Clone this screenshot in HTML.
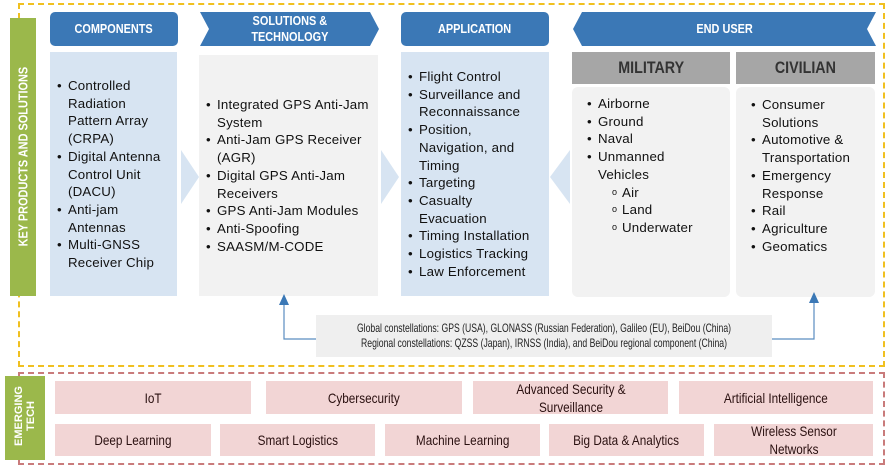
<!DOCTYPE html>
<html><head><meta charset="utf-8"><style>
*{margin:0;padding:0;box-sizing:border-box}
body{width:889px;height:467px;background:#fff;position:relative;overflow:hidden;font-family:"Liberation Sans",sans-serif}
.a{position:absolute}
.n{display:inline-block;transform:scaleX(0.84);white-space:nowrap}
.hdr{background:#3b78b6;color:#fff;font-weight:bold;font-size:13px;display:flex;align-items:center;justify-content:center;text-align:center;line-height:16px}
.lb{background:#d7e4f2}
.lg{background:#f2f2f2}
.list{position:absolute;font-size:13.3px;line-height:17.7px;color:#111;white-space:nowrap;letter-spacing:0.2px}
.list div{position:relative;padding-left:11px}
.list div::before{content:"•";position:absolute;left:0;top:0}
.list div.s{padding-left:35px}
.list div.s::before{content:"o";left:25px;font-size:9px}
.et{background:#f2d5d5;color:#2a1010;font-size:14px;display:flex;align-items:center;justify-content:center;text-align:center;line-height:18px}
</style></head><body>
<div class="a" style="left:18px;top:3px;width:867px;height:364px;border:2px dashed #f0c020"></div>
<div class="a" style="left:18px;top:372px;width:867px;height:93px;border:2px dashed #c97b7b"></div>
<div class="a" style="left:10px;top:18px;width:26px;height:278px;background:#9bb84b"></div>
<div class="a" style="left:23px;top:157px;width:0;height:0"><div style="position:absolute;left:-150px;top:-8px;width:300px;text-align:center;transform:rotate(-90deg);color:#fff;font-weight:bold;font-size:13px"><span class="n">KEY PRODUCTS AND SOLUTIONS</span></div></div>
<div class="a" style="left:5px;top:376px;width:40px;height:84px;background:#9bb84b"></div>
<div class="a" style="left:25px;top:418px;width:0;height:0"><div style="position:absolute;left:-50px;top:-14px;width:100px;text-align:center;transform:rotate(-90deg);color:#fff;font-weight:bold;font-size:11px;line-height:12px">EMERGING<br>TECH</div></div>
<div class="a hdr" style="left:50px;top:12px;width:128px;height:34px;border-radius:5px"><span class="n">COMPONENTS</span></div>
<svg class="a" style="left:200px;top:12px" width="179" height="34"><polygon points="0,0 170,0 179,17 170,34 0,34 9,17" fill="#3b78b6"/></svg>
<div class="a hdr" style="left:205px;top:12px;width:170px;height:34px;background:none"><span class="n">SOLUTIONS &amp;<br>TECHNOLOGY</span></div>
<div class="a hdr" style="left:401px;top:12px;width:148px;height:34px;border-radius:5px"><span class="n">APPLICATION</span></div>
<svg class="a" style="left:573px;top:12px" width="303" height="34"><polygon points="9,0 303,0 294,17 303,34 9,34 0,17" fill="#3b78b6"/></svg>
<div class="a hdr" style="left:573px;top:12px;width:303px;height:34px;background:none"><span class="n">END USER</span></div>
<div class="a lb" style="left:50px;top:52px;width:127px;height:244px"></div>
<div class="a lg" style="left:199px;top:55px;width:179px;height:241px"></div>
<div class="a lb" style="left:401px;top:52px;width:148px;height:244px"></div>
<div class="a hdr" style="left:572px;top:52px;width:158px;height:32px;background:#a6a6a6;color:#333;font-size:17px"><span class="n">MILITARY</span></div>
<div class="a hdr" style="left:736px;top:52px;width:139px;height:32px;background:#a6a6a6;color:#333;font-size:17px"><span class="n">CIVILIAN</span></div>
<div class="a lg" style="left:572px;top:87px;width:158px;height:210px;border-radius:6px"></div>
<div class="a lg" style="left:736px;top:87px;width:139px;height:210px;border-radius:6px"></div>
<svg class="a" style="left:181px;top:150px" width="20" height="54"><polygon points="0,0 18,27 0,54" fill="#d7e4f2"/></svg>
<svg class="a" style="left:381px;top:150px" width="20" height="54"><polygon points="0,0 18,27 0,54" fill="#d7e4f2"/></svg>
<svg class="a" style="left:550px;top:150px" width="22" height="54"><polygon points="20,0 0,27 20,54" fill="#d7e4f2"/></svg>
<div class="list" style="left:57px;top:77px"><div>Controlled<br>Radiation<br>Pattern Array<br>(CRPA)</div><div>Digital Antenna<br>Control Unit<br>(DACU)</div><div>Anti-jam<br>Antennas</div><div>Multi-GNSS<br>Receiver Chip</div></div>
<div class="list" style="left:206px;top:96px"><div>Integrated GPS Anti-Jam<br>System</div><div>Anti-Jam GPS Receiver<br>(AGR)</div><div>Digital GPS Anti-Jam<br>Receivers</div><div>GPS Anti-Jam Modules</div><div>Anti-Spoofing</div><div>SAASM/M-CODE</div></div>
<div class="list" style="left:408px;top:68px"><div>Flight Control</div><div>Surveillance and<br>Reconnaissance</div><div>Position,<br>Navigation, and<br>Timing</div><div>Targeting</div><div>Casualty<br>Evacuation</div><div>Timing Installation</div><div>Logistics Tracking</div><div>Law Enforcement</div></div>
<div class="list" style="left:587px;top:95px"><div>Airborne</div><div>Ground</div><div>Naval</div><div>Unmanned<br>Vehicles</div><div class="s">Air</div><div class="s">Land</div><div class="s">Underwater</div></div>
<div class="list" style="left:751px;top:96px"><div>Consumer<br>Solutions</div><div>Automotive &amp;<br>Transportation</div><div>Emergency<br>Response</div><div>Rail</div><div>Agriculture</div><div>Geomatics</div></div>
<svg class="a" style="left:0;top:0" width="889" height="467">
<polyline points="316,339 284,339 284,303" fill="none" stroke="#5a8dc0" stroke-width="1.2"/>
<polygon points="279,305 289,305 284,294" fill="#3b78b6"/>
<polyline points="772,339 814,339 814,301" fill="none" stroke="#5a8dc0" stroke-width="1.2"/>
<polygon points="809,303 819,303 814,292" fill="#3b78b6"/>
</svg>
<div class="a" style="left:316px;top:315px;width:456px;height:42px;background:#efefef;font-size:12px;line-height:15px;color:#222;padding-top:6px"><div style="width:600px;margin-left:-72px;text-align:center;white-space:nowrap;transform:scaleX(0.72);transform-origin:center">Global constellations: GPS (USA), GLONASS (Russian Federation), Galileo (EU), BeiDou (China)<br>Regional constellations: QZSS (Japan), IRNSS (India), and BeiDou regional component (China)</div></div>
<div class="a et" style="left:55px;top:381px;width:196px;height:33px"><span class="n">IoT</span></div>
<div class="a et" style="left:266px;top:381px;width:196px;height:33px"><span class="n">Cybersecurity</span></div>
<div class="a et" style="left:473px;top:381px;width:195px;height:33px"><span class="n">Advanced Security &amp;<br>Surveillance</span></div>
<div class="a et" style="left:679px;top:381px;width:194px;height:33px"><span class="n">Artificial Intelligence</span></div>
<div class="a et" style="left:55px;top:424px;width:156px;height:32px"><span class="n">Deep Learning</span></div>
<div class="a et" style="left:220px;top:424px;width:155px;height:32px"><span class="n">Smart Logistics</span></div>
<div class="a et" style="left:385px;top:424px;width:155px;height:32px"><span class="n">Machine Learning</span></div>
<div class="a et" style="left:549px;top:424px;width:155px;height:32px"><span class="n">Big Data &amp; Analytics</span></div>
<div class="a et" style="left:714px;top:424px;width:159px;height:32px"><span class="n">Wireless Sensor<br>Networks</span></div>
</body></html>
